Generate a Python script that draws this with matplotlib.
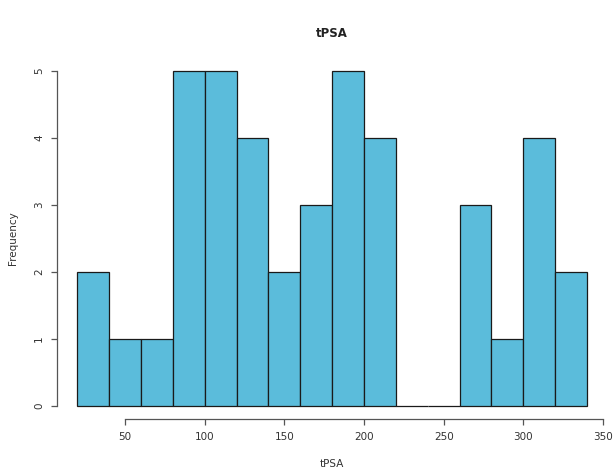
import numpy as np
import matplotlib.pyplot as plt

# histogram bins (R-style hist of tPSA)
bin_edges = [20, 40, 60, 80, 100, 120, 140, 160, 180, 200, 220, 240, 260, 280, 300, 320, 340]
counts = [2, 1, 1, 5, 5, 4, 2, 3, 5, 4, 0, 0, 3, 1, 4, 2]
x_ticks = [50, 100, 150, 200, 250, 300, 350]
y_ticks = [0, 1, 2, 3, 4, 5]

fig = plt.figure(figsize=(6.16, 4.69), dpi=100)
ax = fig.add_axes([0.0922, 0.1058, 0.894, 0.7714])

left = np.array(bin_edges[:-1])
width = np.diff(bin_edges)
ax.bar(left, counts, width=width, align='edge', color='#5bbcdb',
       edgecolor='#1a1a1a', linewidth=0.9)

ax.set_xlim(7.2, 352.8)
ax.set_ylim(-0.2, 5.2)

for s in ['top', 'right']:
    ax.spines[s].set_visible(False)
ax.spines['left'].set_bounds(0, 5)
ax.spines['bottom'].set_bounds(50, 350)
for s in ['left', 'bottom']:
    ax.spines[s].set_color('#555555')
    ax.spines[s].set_linewidth(0.9)

ax.set_xticks(x_ticks)
ax.set_yticks(y_ticks)
ax.tick_params(axis='both', length=4, width=0.9, color='#555555',
               labelsize=7.5, labelcolor='#333333', pad=5)
for lab in ax.get_yticklabels():
    lab.set_rotation(90)
    lab.set_va('center')

ax.set_title('tPSA', fontsize=8.5, fontweight='semibold', color='#222222', pad=15)
ax.set_xlabel('tPSA', fontsize=7.5, color='#333333', labelpad=12)
ax.set_ylabel('Frequency', fontsize=7.5, color='#333333', labelpad=12)

fig.savefig('out.png', dpi=100)
